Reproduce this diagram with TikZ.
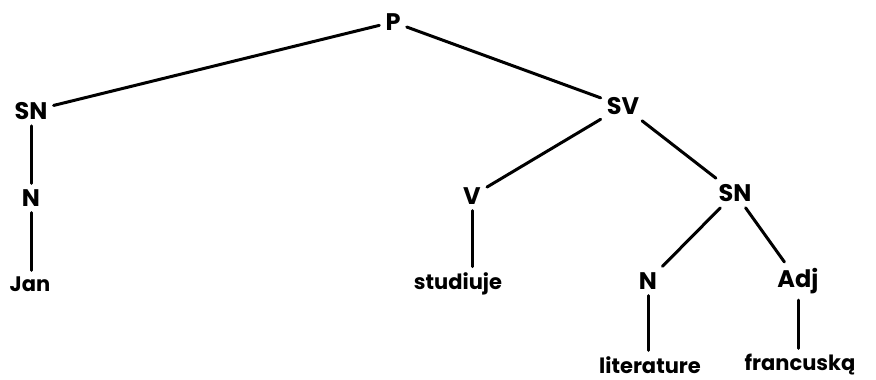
\documentclass[tikz,border=0pt]{standalone}
\usepackage{fontspec}
\setmainfont{Poppins}
\usetikzlibrary{positioning}

\begin{document}
\begin{tikzpicture}[x=1pt, y=-1pt,
  cat/.style={inner sep=6pt, font=\fontsize{24}{24}\selectfont\bfseries},
  word/.style={inner sep=2pt, font=\fontsize{21}{21}\selectfont\bfseries},
  branch/.style={line width=3pt, line cap=round, shorten >=4pt}
]
  \useasboundingbox (0,0) rectangle (876,380);
  % categories
  \node[cat] (p)   at (393, 22)  {P};
  \node[cat] (sn1) at (31, 111)  {SN};
  \node[cat] (sv)  at (623, 106) {SV};
  \node[cat] (n1)  at (31, 198)  {N};
  \node[cat] (v)   at (472, 196) {V};
  \node[cat] (sn2) at (735, 193) {SN};
  \node[cat] (n2)  at (648, 281) {N};
  \node[cat] (adj) at (798, 281) {Adj};
  % words
  \node[word] (jan)   at (30, 284)  {Jan};
  \node[word] (stud)  at (458, 284) {studiuje};
  \node[word] (lit)   at (650, 365) {literature};
  \node[word] (franc) at (800, 365) {francuską};
  % branches
  \draw[branch, shorten >=0pt] (p) -- (sn1);
  \draw[branch, shorten >=0pt] (p) -- (sv);
  \draw[branch, shorten >=0pt] (sn1) -- (n1);
  \draw[branch] (n1) -- (n1 |- jan.north);
  \draw[branch, shorten >=0pt] (sv) -- (v);
  \draw[branch, shorten >=0pt] (sv) -- (sn2);
  \draw[branch] (v) -- (v |- stud.north);
  \draw[branch, shorten >=0pt] (sn2) -- (n2);
  \draw[branch, shorten >=0pt] (sn2) -- (adj);
  \draw[branch] (n2) -- (n2 |- lit.north);
  \draw[branch] (adj) -- (adj |- franc.north);
\end{tikzpicture}
\end{document}
